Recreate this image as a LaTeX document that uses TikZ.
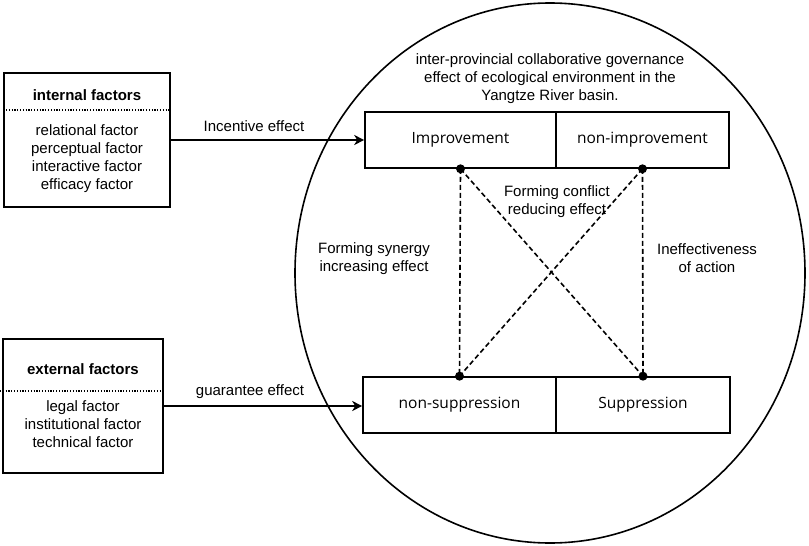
\documentclass[tikz,border=0pt]{standalone}
\usepackage{fontspec}
\setmainfont{Liberation Sans}
\newfontfamily\boxfont{Open Sans}
\usetikzlibrary{arrows.meta,shapes.geometric}
\begin{document}
\begin{tikzpicture}[x=1pt,y=-1pt,
  txt/.style={font=\fontsize{15}{18}\selectfont, align=center, inner sep=0pt},
  frame/.style={draw, line width=1.6pt, inner sep=0pt},
  cell/.style={draw, line width=1.6pt, inner sep=0pt, minimum height=56pt,
    font=\boxfont\fontsize{15.5}{18}\selectfont},
  arr/.style={line width=1.6pt, -{Stealth[length=10pt,width=10pt,inset=3pt]}},
  dsh/.style={line width=1.6pt, dash pattern=on 5pt off 3pt},
  dotline/.style={line width=1.4pt, dash pattern=on 1.2pt off 1.6pt},
  dot/.style={circle, fill=black, inner sep=0pt, minimum size=9pt}]
\useasboundingbox (0,0) rectangle (809,546);
% big ellipse
\node[draw, ellipse, line width=1.6pt, minimum width=510pt, minimum height=540pt, inner sep=0pt] (circ) at (550,273) {};
% title
\node[txt] (title) at (550,79) {inter-provincial collaborative governance\\effect of ecological environment in the\\Yangtze River basin.};
% left boxes
\node[frame, minimum width=166pt, minimum height=134pt] (intbox) at (87,140) {};
\node[txt, font=\bfseries\fontsize{15}{18}\selectfont] (intt) at (87,95) {internal factors};
\draw[dotline] (intbox.west |- 0,110) -- (intbox.east |- 0,110);
\node[txt] (intb) at (87,159) {relational factor\\perceptual factor\\interactive factor\\efficacy factor};
\node[frame, minimum width=160pt, minimum height=134pt] (extbox) at (83,406) {};
\node[txt, font=\bfseries\fontsize{15}{18}\selectfont] (extt) at (83,369) {external factors};
\coordinate (dl) at (0,391);
\draw[dotline] (dl) -- (extbox.east |- dl);
\node[txt] (extb) at (83,424) {legal factor\\institutional factor\\technical factor};
% cells
\node[cell, minimum width=191pt] (imp) at (460.5,140) {Improvement};
\node[cell, minimum width=173pt] (nonimp) at (642.5,140) {non-improvement};
\node[cell, minimum width=193pt] (nonsup) at (459.5,405) {non-suppression};
\node[cell, minimum width=174pt] (sup) at (643,405) {Suppression};
% arrows
\draw[arr] (intbox.east) -- (intbox.east -| imp.west);
\node[txt] (inclab) at (254,126) {Incentive effect};
\draw[arr] (extbox.east) -- (extbox.east -| nonsup.west);
\node[txt] (guarlab) at (250,392) {guarantee effect};
% dashed connections
\draw[dsh] (imp.south) -- (nonsup.north);
\draw[dsh] (nonimp.south) -- (sup.north);
\draw[dsh] (imp.south) -- (sup.north);
\draw[dsh] (nonimp.south) -- (nonsup.north);
\node[dot] (d1) at (imp.south) {};
\node[dot] (d2) at (nonimp.south) {};
\node[dot] (d3) at (nonsup.north) {};
\node[dot] (d4) at (sup.north) {};
% labels
\node[txt] (conf) at (557,202) {Forming conflict\\reducing effect};
\node[txt] (syn) at (374,259) {Forming synergy\\increasing effect};
\node[txt] (inef) at (707,258) {Ineffectiveness\\of action};
\end{tikzpicture}
\end{document}
